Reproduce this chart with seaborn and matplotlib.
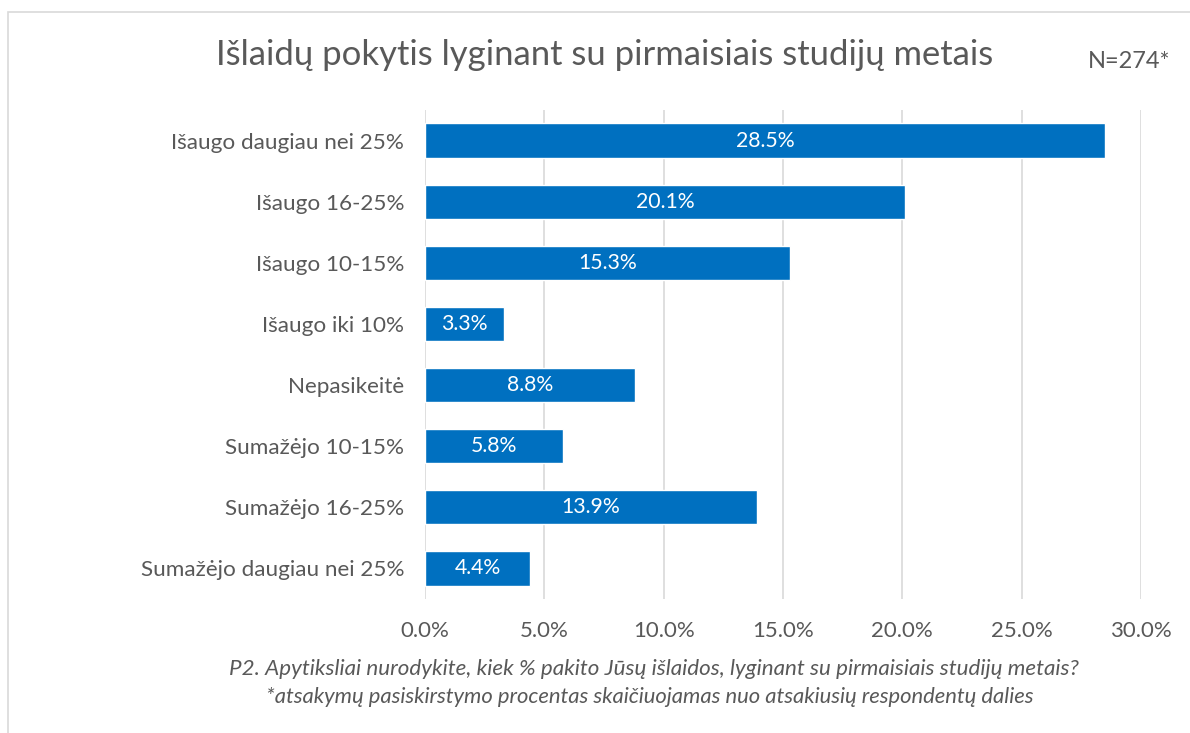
import matplotlib
matplotlib.use("Agg")
import matplotlib.pyplot as plt
import seaborn as sns
import pandas as pd
from matplotlib.patches import Rectangle

categories = ["Išaugo daugiau nei 25%", "Išaugo 16-25%", "Išaugo 10-15%", "Išaugo iki 10%",
              "Nepasikeitė", "Sumažėjo 10-15%", "Sumažėjo 16-25%", "Sumažėjo daugiau nei 25%"]
values = [28.5, 20.1, 15.3, 3.3, 8.8, 5.8, 13.9, 4.4]
xticks = [0, 5, 10, 15, 20, 25, 30]
title = "Išlaidų pokytis lyginant su pirmaisiais studijų metais"
n_label = "N=274*"
footnote = ["P2. Apytiksliai nurodykite, kiek % pakito Jūsų išlaidos, lyginant su pirmaisiais studijų metais?",
            "*atsakymų pasiskirstymo procentas skaičiuojamas nuo atsakiusių respondentų dalies"]

sns.set_theme(style="white")
plt.rcParams['font.family'] = ['Lato', 'DejaVu Sans']
TXT = "#595959"

df = pd.DataFrame({"cat": categories, "val": values})
fig = plt.figure(figsize=(11.9, 7.33), dpi=100)
ax = fig.add_axes([425/1190, 1-599/733, (1141-425)/1190, (599-110)/733])
sns.barplot(data=df, y="cat", x="val", color="#0070C0", orient="h", width=0.56,
            saturation=1, ax=ax, zorder=3)
ax.set_xlim(0, 30)
ax.set_xticks(xticks)
ax.set_xticklabels([f"{t:.1f}%" for t in xticks], color=TXT, fontsize=16)
ax.tick_params(axis='y', labelsize=16.2, labelcolor=TXT, length=0, pad=15)
ax.tick_params(axis='x', length=0, pad=16)
ax.set_xlabel("")
ax.set_ylabel("")
for s in ax.spines.values():
    s.set_visible(False)
ax.grid(axis='x', color="#D9D9D9", linewidth=1.2, zorder=0)
ax.set_axisbelow(True)
ax.bar_label(ax.containers[0], labels=[f"{v:.1f}%" for v in values], label_type='center',
             color="white", fontsize=15.3)

fig.text(605/1190, 1-55/733, title, ha='center', va='center', fontsize=24.9, color=TXT)
fig.text(1129/1190, 1-62/733, n_label, ha='center', va='center', fontsize=17, color=TXT)
fig.text(654/1190, 1-669/733, footnote[0], ha='center', va='center', fontsize=16.1,
         color=TXT, style='italic')
fig.text(650/1190, 1-697/733, footnote[1], ha='center', va='center', fontsize=15.8,
         color=TXT, style='italic')
fig.patches.append(Rectangle((8/1190, -0.1), 1.2, 1 - 12/733 + 0.1, transform=fig.transFigure,
                             fill=False, edgecolor="#D9D9D9", linewidth=1.2))
fig.savefig("out.png", dpi=100)
